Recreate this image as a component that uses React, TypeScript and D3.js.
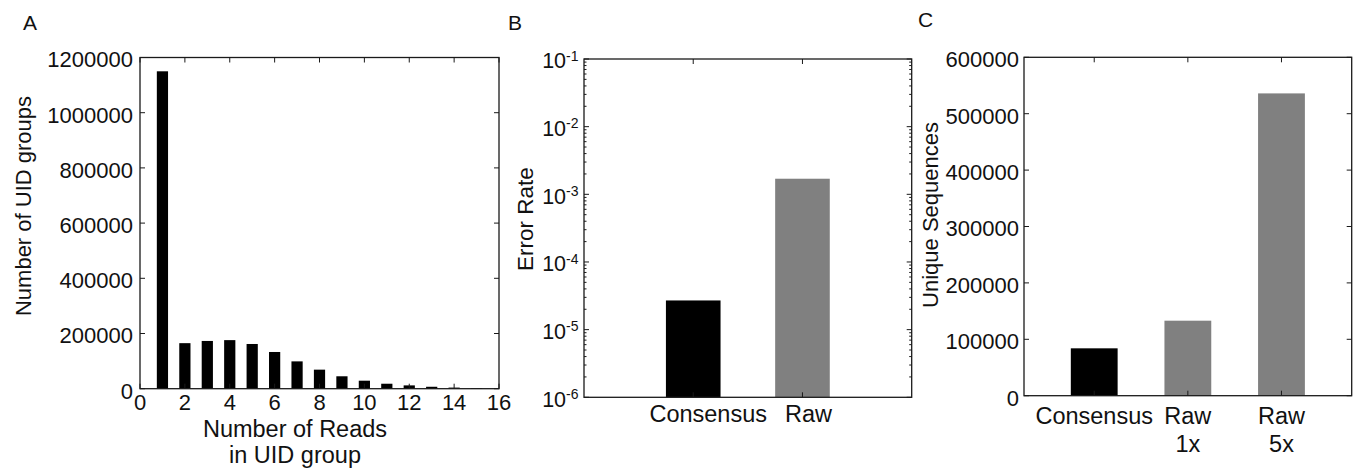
import React from "react";
import * as d3 from "d3";

// Panel A: histogram of reads per UID group
const readCounts = [1, 2, 3, 4, 5, 6, 7, 8, 9, 10, 11, 12, 13, 14, 15];
const uidGroups = [
  1150000, 165000, 173000, 176000, 162000, 133000, 99000, 69000, 45000, 29000,
  18000, 12000, 7000, 4000, 2000,
];

// Panel B: error rate (log scale)
const errorCategories = ["Consensus", "Raw"];
const errorRates = [2.7e-5, 1.7e-3];

// Panel C: unique sequences
const seqCategories = [["Consensus"], ["Raw", "1x"], ["Raw", "5x"]];
const uniqueSeqs = [84000, 133000, 536000];

const FONT = "'Liberation Sans', Arial, Helvetica, sans-serif";
const FRAME = "#1a1a1a";
const GRAY = "#808080";
const MAJOR = 5;
const MINOR = 2.5;

const Frame = ({ x0, x1, y0, y1 }) => (
  <rect
    x={x0}
    y={y0}
    width={x1 - x0}
    height={y1 - y0}
    fill="none"
    stroke={FRAME}
    strokeWidth={1.3}
  />
);

// ticks drawn inward on all four sides
const XTicks = ({ xs, y0, y1 }) => (
  <g stroke={FRAME} strokeWidth={1}>
    {xs.map((x, i) => (
      <g key={i}>
        <line x1={x} x2={x} y1={y1} y2={y1 - MAJOR} />
        <line x1={x} x2={x} y1={y0} y2={y0 + MAJOR} />
      </g>
    ))}
  </g>
);

const YTicks = ({ ys, x0, x1, len = MAJOR }) => (
  <g stroke={FRAME} strokeWidth={1}>
    {ys.map((y, i) => (
      <g key={i}>
        <line x1={x0} x2={x0 + len} y1={y} y2={y} />
        <line x1={x1} x2={x1 - len} y1={y} y2={y} />
      </g>
    ))}
  </g>
);

const PanelA = () => {
  const x = d3.scaleLinear().domain([0, 16]).range([140, 499]);
  const y = d3.scaleLinear().domain([0, 1200000]).range([388.7, 57.5]);
  const [x0, x1] = x.range();
  const [y1, y0] = y.range();
  const bw = x(0.5) - x(0);
  const xt = x.ticks(8);
  const yt = y.ticks(6);
  const fmt = d3.format("d");
  return (
    <g>
      {readCounts.map((d, i) => (
        <rect
          key={d}
          x={x(d - 0.25)}
          y={y(uidGroups[i])}
          width={bw}
          height={y(0) - y(uidGroups[i])}
          fill="#000"
        />
      ))}
      <Frame x0={x0} x1={x1} y0={y0} y1={y1} />
      <XTicks xs={xt.map(x)} y0={y0} y1={y1} />
      <YTicks ys={yt.map(y)} x0={x0} x1={x1} />
      {xt.map((t) => (
        <text key={t} x={x(t)} y={y1 + 21.5} textAnchor="middle" fontSize={22}>
          {fmt(t)}
        </text>
      ))}
      {yt.map((t) => (
        <text key={t} x={x0 - 7} y={y(t) + 2} dy="0.36em" textAnchor="end" fontSize={22}>
          {fmt(t)}
        </text>
      ))}
      <text x={295} y={437} textAnchor="middle" fontSize={23.5}>
        Number of Reads
      </text>
      <text x={295} y={463} textAnchor="middle" fontSize={23.5}>
        in UID group
      </text>
      <text
        transform="translate(31,206) rotate(-90)"
        textAnchor="middle"
        fontSize={22}
      >
        Number of UID groups
      </text>
      <text x={23} y={30} fontSize={21}>
        A
      </text>
    </g>
  );
};

const PanelB = () => {
  const x = d3.scaleLinear().domain([0, 3]).range([584, 911.7]);
  const y = d3.scaleLog().domain([1e-6, 1e-1]).range([397.3, 59]);
  const [x0, x1] = x.range();
  const [y1, y0] = y.range();
  const bw = x(0.5) - x(0);
  const centers = errorCategories.map((_, i) => i + 1);
  const decades = d3.range(-6, 0);
  const minors = [];
  decades.slice(0, -1).forEach((e) => {
    for (let m = 2; m <= 9; m++) minors.push(m * Math.pow(10, e));
  });
  const labelShift = [15, 6];
  return (
    <g>
      {errorRates.map((v, i) => (
        <rect
          key={i}
          x={x(centers[i] - 0.25)}
          y={y(v)}
          width={bw}
          height={y(1e-6) - y(v)}
          fill={i === 0 ? "#000" : GRAY}
        />
      ))}
      <Frame x0={x0} x1={x1} y0={y0} y1={y1} />
      <XTicks xs={centers.map(x)} y0={y0} y1={y1} />
      <YTicks ys={decades.map((e) => y(Math.pow(10, e)))} x0={x0} x1={x1} />
      <YTicks ys={minors.map(y)} x0={x0} x1={x1} len={MINOR} />
      {decades.map((e) => (
        <text
          key={e}
          x={x0 - 5.5}
          y={y(Math.pow(10, e)) + 1.5}
          dy="0.36em"
          textAnchor="end"
          fontSize={21.5}
        >
          <tspan>10</tspan>
          <tspan fontSize={14} dy={-7.5}>
            {"-" + Math.abs(e)}
          </tspan>
        </text>
      ))}
      {errorCategories.map((c, i) => (
        <text
          key={c}
          x={x(centers[i]) + labelShift[i]}
          y={y1 + 24.4}
          textAnchor="middle"
          fontSize={23.5}
        >
          {c}
        </text>
      ))}
      <text
        transform="translate(533,219) rotate(-90)"
        textAnchor="middle"
        fontSize={22.5}
      >
        Error Rate
      </text>
      <text x={508} y={30} fontSize={21}>
        B
      </text>
    </g>
  );
};

const PanelC = () => {
  const x = d3.scaleLinear().domain([0, 3.5]).range([1024, 1351.7]);
  const y = d3.scaleLinear().domain([0, 600000]).range([395.7, 57.3]);
  const [x0, x1] = x.range();
  const [y1, y0] = y.range();
  const bw = x(0.5) - x(0);
  const centers = seqCategories.map((_, i) => i + 0.75);
  const yt = y.ticks(6);
  const fmt = d3.format("d");
  return (
    <g>
      {uniqueSeqs.map((v, i) => (
        <rect
          key={i}
          x={x(centers[i] - 0.25)}
          y={y(v)}
          width={bw}
          height={y(0) - y(v)}
          fill={i === 0 ? "#000" : GRAY}
        />
      ))}
      <Frame x0={x0} x1={x1} y0={y0} y1={y1} />
      <XTicks xs={centers.map(x)} y0={y0} y1={y1} />
      <YTicks ys={yt.map(y)} x0={x0} x1={x1} />
      {yt.map((t) => (
        <text key={t} x={x0 - 5} y={y(t) + 2} dy="0.36em" textAnchor="end" fontSize={22}>
          {fmt(t)}
        </text>
      ))}
      {seqCategories.map((lines, i) => (
        <text key={i} textAnchor="middle" fontSize={23.5}>
          {lines.map((s, j) => (
            <tspan key={j} x={x(centers[i])} y={y1 + 28.3 + j * 27.7}>
              {s}
            </tspan>
          ))}
        </text>
      ))}
      <text
        transform="translate(938,215) rotate(-90)"
        textAnchor="middle"
        fontSize={22}
      >
        Unique Sequences
      </text>
      <text x={918} y={27} fontSize={21}>
        C
      </text>
    </g>
  );
};

export default function App() {
  return (
    <svg
      width={1363}
      height={472}
      style={{ position: "absolute", left: 0, top: 0, background: "#fff" }}
      fontFamily={FONT}
      fill="#111"
    >
      <rect width={1363} height={472} fill="#fff" />
      <PanelA />
      <PanelB />
      <PanelC />
    </svg>
  );
}
